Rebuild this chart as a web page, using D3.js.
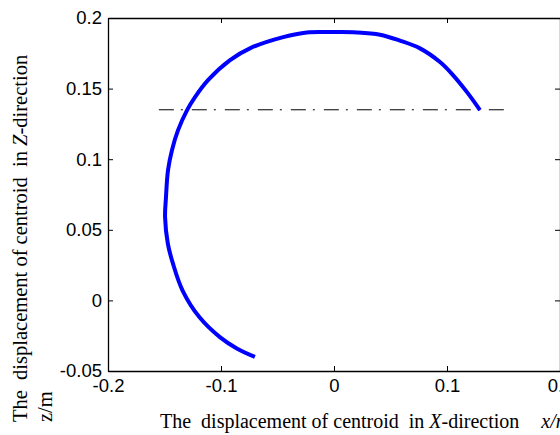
<!DOCTYPE html>
<html>
<head>
<meta charset="utf-8">
<script src="https://cdn.jsdelivr.net/npm/d3@7/dist/d3.min.js"></script>
<style>
  html, body { margin: 0; padding: 0; background: #fff; }
  svg { display: block; }
</style>
</head>
<body>
<svg id="chart" width="560" height="435"></svg>
<script>
// ---- data ----
const curveX = [-0.070, -0.086, -0.101, -0.119, -0.134, -0.1425, -0.147, -0.1495, -0.1487, -0.1469, -0.1434, -0.138, -0.130, -0.123, -0.1115, -0.092, -0.074, -0.045, -0.024, 0.000, 0.020, 0.0407, 0.0584, 0.0761, 0.0938, 0.1053, 0.1177, 0.1292];
const curveZ = [-0.040, -0.034, -0.026, -0.012, 0.007, 0.026, 0.040, 0.059, 0.073, 0.0922, 0.1064, 0.1206, 0.1348, 0.144, 0.156, 0.1702, 0.1787, 0.1865, 0.1898, 0.190, 0.1898, 0.1882, 0.1840, 0.1785, 0.1688, 0.1596, 0.1475, 0.1348];
const refLineX = [-0.155, 0.155];
const refLineZ = [0.135, 0.135];
const xTicks = [-0.2, -0.1, 0, 0.1, 0.2];
const xTickLabels = ["-0.2", "-0.1", "0", "0.1", "0.2"];
const yTicks = [-0.05, 0, 0.05, 0.1, 0.15, 0.2];
const yTickLabels = ["-0.05", "0", "0.05", "0.1", "0.15", "0.2"];

// ---- layout ----
const svg = d3.select("#chart");
const pLeft = 108, pRight = 560, pTop = 18, pBottom = 371;
const x = d3.scaleLinear().domain([-0.2, 0.2]).range([pLeft, pRight]);
const y = d3.scaleLinear().domain([-0.05, 0.2]).range([pBottom, pTop]);

const tickFont = "'Liberation Sans', Arial, sans-serif";
const labelFont = "'Liberation Serif', 'Times New Roman', serif";

// axes
const gB = svg.append("g").attr("transform", `translate(0,${pBottom})`)
  .call(d3.axisBottom(x).tickValues(xTicks).tickFormat((d, i) => xTickLabels[i])
    .tickSizeInner(-5).tickSizeOuter(0).tickPadding(8));
const gT = svg.append("g").attr("transform", `translate(0,${pTop})`)
  .call(d3.axisTop(x).tickValues(xTicks).tickFormat("")
    .tickSizeInner(-5).tickSizeOuter(0));
const gL = svg.append("g").attr("transform", `translate(${pLeft},0)`)
  .call(d3.axisLeft(y).tickValues(yTicks).tickFormat((d, i) => yTickLabels[i])
    .tickSizeInner(-5).tickSizeOuter(0).tickPadding(6));
const gR = svg.append("g").attr("transform", `translate(${pRight},0)`)
  .call(d3.axisRight(y).tickValues(yTicks).tickFormat("")
    .tickSizeInner(-5).tickSizeOuter(0));

[gB, gT, gL, gR].forEach(g => {
  g.select(".domain").attr("stroke", "#000").attr("stroke-width", 1.3);
  g.selectAll(".tick line").attr("stroke", "#000").attr("stroke-width", 1);
  g.selectAll(".tick text").attr("fill", "#000")
    .style("font-family", tickFont).style("font-size", "18.5px");
});

// reference dash-dot line
svg.append("line")
  .attr("x1", x(refLineX[0])).attr("x2", x(refLineX[1]))
  .attr("y1", y(refLineZ[0])).attr("y2", y(refLineZ[1]))
  .attr("stroke", "#000").attr("stroke-width", 1)
  .attr("stroke-dasharray", "15,7,2,9");

// trajectory
const pts = curveX.map((v, i) => [v, curveZ[i]]);
svg.append("path")
  .datum(pts)
  .attr("fill", "none")
  .attr("stroke", "#0000ff")
  .attr("stroke-width", 4)
  .attr("stroke-linecap", "butt")
  .attr("stroke-linejoin", "round")
  .attr("d", d3.line().x(d => x(d[0])).y(d => y(d[1])).curve(d3.curveCatmullRom));

// y label (two lines, rotated, starting at bottom)
const yl = svg.append("text")
  .attr("transform", "translate(27,422) rotate(-90)")
  .attr("text-anchor", "start")
  .style("white-space", "pre")
  .style("font-family", labelFont).style("font-size", "20.5px").attr("fill", "#000");
yl.append("tspan").text("The  displacement of centroid  in ");
yl.append("tspan").text("Z").style("font-style", "italic");
yl.append("tspan").text("-direction");
svg.append("text")
  .attr("transform", "translate(52,422) rotate(-90)")
  .attr("text-anchor", "start")
  .style("font-family", labelFont).style("font-size", "20.5px").attr("fill", "#000")
  .text("z/m");

// x label
const xl = svg.append("text")
  .attr("x", 160).attr("y", 428)
  .attr("text-anchor", "start")
  .style("white-space", "pre")
  .style("font-family", labelFont).style("font-size", "20px").attr("fill", "#000");
xl.append("tspan").text("The  displacement of centroid  in ");
xl.append("tspan").text("X").style("font-style", "italic");
xl.append("tspan").text("-direction");
xl.append("tspan").attr("dx", 22).text("x/m").style("font-style", "italic");
</script>
</body>
</html>
